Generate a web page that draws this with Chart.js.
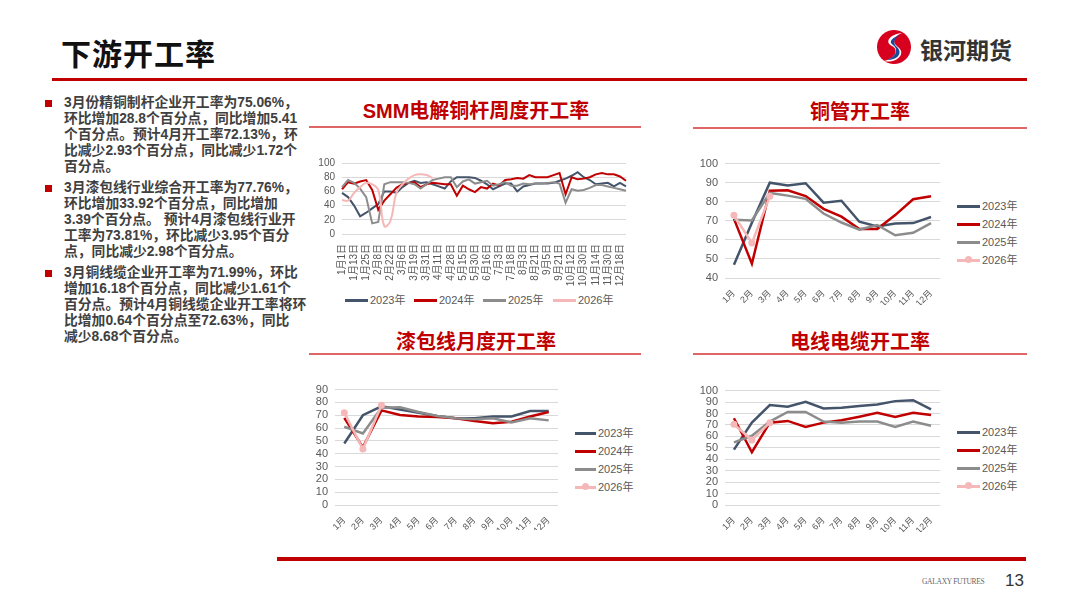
<!DOCTYPE html>
<html>
<head>
<meta charset="utf-8">
<script src="https://cdn.jsdelivr.net/npm/chart.js@4.4.1/dist/chart.umd.min.js"></script>
<style>
    body { margin: 0; width: 1080px; height: 608px; background: #fff; position: relative; overflow: hidden;
           font-family: "Liberation Sans", "Noto Sans CJK SC", sans-serif; }
    .abs { position: absolute; }
    .page-title { left: 61px; top: 30px; font-size: 30px; font-weight: bold; color: #111; letter-spacing: 1px;
                  font-family: "Noto Sans CJK SC", sans-serif; }
    .rule { background: #C00000; }
    .notes { left: 44px; top: 95px; width: 260px; font-size: 13.8px; font-weight: bold; color: #404040; line-height: 16px; }
    .notes p { margin: 0 0 5px 0; padding-left: 20px; position: relative; white-space: nowrap; }
    .notes p::before { content: ""; position: absolute; left: 1px; top: 5px; width: 7px; height: 7px; background: #C00000; }
    .chart-title { font-size: 20px; font-weight: bold; color: #C00000; text-align: center; width: 340px; line-height: 24px; }
    .title-rule { height: 2px; background: #E06666; }
    .legend { font-size: 11px; color: #595959; }
    .legend .item { position: absolute; white-space: nowrap; height: 14px; line-height: 14px; }
    .legend .swatch { display: inline-block; width: 23px; height: 3px; vertical-align: middle; margin-right: 2px; position: relative; top: -1px; }
    .legend .dot { position: absolute; left: 8px; top: -2.5px; width: 7px; height: 7px; border-radius: 50%; }
    canvas { position: absolute; }
</style>
</head>
<body>

<div class="abs page-title">下游开工率</div>
<div class="abs rule" style="left:52px; top:78px; width:975px; height:3px;"></div>

<!-- logo -->
<svg class="abs" style="left:874px; top:28px;" width="40" height="38" viewBox="0 0 40 38">
    <ellipse cx="20" cy="19" rx="17" ry="17" fill="#D7001F" transform="rotate(-20 20 19)"/>
    <path d="M28 5 C 16 6, 10 14, 18 18 C 26 22, 20 32, 9 33 C 22 36, 33 26, 24 19 C 17 14, 20 8, 28 5 Z" fill="#fff"/>
    <path d="M27 7 C 18 9, 14 14, 19 17 C 25 21, 22 29, 13 32 C 24 32, 29 25, 23 19 C 18 15, 20 10, 27 7 Z" fill="#1B4A9C"/>
</svg>
<div class="abs" style="left:920px; top:32px; font-size:23px; font-weight:bold; color:#333; font-family:'Noto Sans CJK SC',sans-serif;">银河期货</div>

<div class="abs notes">
    <p>3月份精铜制杆企业开工率为75.06%，<br>环比增加28.8个百分点，同比增加5.41<br>个百分点。预计4月开工率72.13%，环<br>比减少2.93个百分点，同比减少1.72个<br>百分点。</p>
    <p>3月漆包线行业综合开工率为77.76%，<br>环比增加33.92个百分点，同比增加<br>3.39个百分点。 预计4月漆包线行业开<br>工率为73.81%，环比减少3.95个百分<br>点，同比减少2.98个百分点。</p>
    <p>3月铜线缆企业开工率为71.99%，环比<br>增加16.18个百分点，同比减少1.61个<br>百分点。预计4月铜线缆企业开工率将环<br>比增加0.64个百分点至72.63%，同比<br>减少8.68个百分点。</p>
</div>

<div class="abs chart-title" style="left:306px; top:99px;">SMM电解铜杆周度开工率</div>
<div class="abs title-rule" style="left:309px; top:126px; width:332px;"></div>
<div class="abs chart-title" style="left:690px; top:100px;">铜管开工率</div>
<div class="abs title-rule" style="left:693px; top:127px; width:334px;"></div>
<div class="abs chart-title" style="left:306px; top:330px;">漆包线月度开工率</div>
<div class="abs title-rule" style="left:309px; top:353px; width:332px;"></div>
<div class="abs chart-title" style="left:690px; top:330px;">电线电缆开工率</div>
<div class="abs title-rule" style="left:693px; top:353px; width:334px;"></div>

<canvas id="rodChart" width="330" height="136" style="left:310px; top:150px;"></canvas>
<canvas id="tubeChart" width="257" height="155" style="left:693px; top:150px;"></canvas>
<canvas id="enamelChart" width="270" height="154" style="left:300px; top:376px;"></canvas>
<canvas id="cableChart" width="257" height="155" style="left:693px; top:377px;"></canvas>

<div class="abs legend" id="rodLegend" style="left:0; top:0;"></div>
<div class="abs legend" id="tubeLegend" style="left:0; top:0;"></div>
<div class="abs legend" id="enamelLegend" style="left:0; top:0;"></div>
<div class="abs legend" id="cableLegend" style="left:0; top:0;"></div>

<div class="abs rule" style="left:277px; top:557px; width:749px; height:4px;"></div>
<div class="abs" style="left:922px; top:577px; font-size:7.5px; color:#666; font-family:'Liberation Serif',serif; letter-spacing:-0.3px;">GALAXY FUTURES</div>
<div class="abs" style="left:1005px; top:571px; font-size:17px; color:#333;">13</div>

<script>
// series names / colours
const years = ['2023年', '2024年', '2025年', '2026年'];
const colors = ['#44546A', '#C00000', '#8C8C8C', '#F5B7B7'];

// SMM electrolytic copper rod, weekly
const weekLabels = ['1月1日', '1月7日', '1月13日', '1月19日', '1月25日', '2月1日', '2月8日', '2月15日', '2月22日', '2月28日',
    '3月6日', '3月12日', '3月19日', '3月25日', '3月31日', '4月5日', '4月11日', '4月19日', '4月28日', '5月7日',
    '5月15日', '5月22日', '5月30日', '6月7日', '6月16日', '6月25日', '7月3日', '7月10日', '7月18日', '7月26日',
    '8月3日', '8月12日', '8月21日', '8月28日', '9月5日', '9月13日', '9月21日', '9月30日', '10月12日', '10月20日',
    '10月30日', '11月7日', '11月14日', '11月22日', '11月30日', '12月9日', '12月18日', '12月25日'];
const rod2023 = [58, 52, 40, 25, 30, 36, 42, 60, 60, 58, 66, 72, 75, 72, 73, 70, 67, 64, 74, 80,
    80, 80, 79, 75, 70, 63, 67, 71, 71, 60, 67, 69, 71, 71, 71, 72, 75, 78, 82, 87,
    80, 76, 70, 71, 72, 67, 72, 67];
const rod2024 = [63, 73, 71, 74, 76, 62, 34, 47, 56, 65, 70, 72, 73, 66, 70, 72, 71, 70, 70, 54,
    68, 63, 59, 66, 64, 71, 68, 76, 77, 79, 78, 83, 80, 80, 80, 83, 86, 56, 80, 77,
    78, 80, 84, 86, 84, 84, 81, 75];
const rod2025 = [66, 76, 72, 64, 52, 15, 17, 70, 73, 73, 73, 72, 70, 64, 70, 76, 78, 80, 80, 66,
    74, 77, 71, 73, 75, 68, 70, 73, 68, 68, 71, 70, 71, 71, 72, 73, 71, 44, 63, 61,
    62, 65, 69, 69, 67, 65, 63, 61];
const rod2026 = [48, 47, 58, 66, 72, 70, 62, 11, 18, 58, 70, 78, 83, 84, 83, 79];

// monthly charts
const months = ['1月', '2月', '3月', '4月', '5月', '6月', '7月', '8月', '9月', '10月', '11月', '12月'];

const tube2023 = [47, 69, 90, 88.5, 89.7, 79.5, 80.5, 69.5, 67, 68.6, 68.8, 72];
const tube2024 = [71, 47.5, 85.8, 86, 83, 76.3, 72.2, 65.7, 65.7, 73, 81.3, 82.9];
const tube2025 = [70.5, 70.2, 84.6, 83.2, 81.5, 73.8, 69.1, 65.4, 67.8, 62.4, 63.7, 68.8];
const tube2026 = [72.9, 58.3, 82.9];

const enamel2023 = [48, 70, 77, 74.5, 72, 69.4, 67.6, 67.6, 69, 69, 73.3, 73.3];
const enamel2024 = [68, 45, 73.8, 70.2, 69, 68.6, 67.6, 65.5, 63.8, 65, 69, 72.5];
const enamel2025 = [61, 55.8, 75.8, 76.3, 72.5, 69.4, 67.6, 66.8, 67.6, 64.3, 67.6, 66];
const enamel2026 = [72, 43.7, 77.76];

const cable2023 = [48.4, 72, 87.3, 85.9, 90.2, 84.4, 85, 86.5, 87.9, 90.8, 91.6, 83.6];
const cable2024 = [75.8, 46.1, 72, 73.5, 68.3, 72, 74, 77.2, 80.7, 77, 80.7, 78.7];
const cable2025 = [54.8, 60.5, 72.9, 81.3, 81.3, 72.9, 72, 72.9, 72.9, 68.3, 72.9, 69.2];
const cable2026 = [70.6, 56.8, 71.99];

const FONT = '"Liberation Sans", "Noto Sans CJK SC", sans-serif';
Chart.defaults.font.family = FONT;
Chart.defaults.color = '#595959';

function makeSets(series, lineWidth, markers, smoothLast) {
    return series.map((data, i) => ({
        label: years[i],
        data: data,
        borderColor: colors[i],
        backgroundColor: colors[i],
        borderWidth: lineWidth,
        pointRadius: (markers && i === 3) ? 3.5 : 0,
        pointBorderWidth: 0,
        pointBackgroundColor: colors[i],
        tension: (smoothLast && i === 3) ? 0.4 : 0,
        order: 4 - i,
        fill: false
    }));
}

function drawChart(id, labels, datasets, y, box) {
    new Chart(document.getElementById(id), {
        type: 'line',
        data: { labels: labels, datasets: datasets },
        options: {
            responsive: false,
            animation: false,
            devicePixelRatio: 1,
            layout: { padding: { top: box.top, right: box.right, left: 0, bottom: 0 } },
            plugins: { legend: { display: false }, tooltip: { enabled: false } },
            scales: {
                x: {
                    offset: box.offset,
                    grid: { display: false },
                    border: { display: false },
                    afterFit: s => { s.height = box.xHeight; },
                    ticks: {
                        autoSkip: false,
                        minRotation: box.rotation,
                        maxRotation: box.rotation,
                        padding: 2,
                        font: { size: box.xFont },
                        color: '#595959',
                        callback: function (v, i) { return (i % box.every === 0) ? this.getLabelForValue(v) : ''; }
                    }
                },
                y: {
                    min: y.min, max: y.max,
                    grid: { color: '#D9D9D9', lineWidth: 1, drawTicks: false },
                    border: { display: false },
                    afterFit: s => { s.width = box.yWidth; },
                    ticks: { stepSize: y.step, autoSkip: false, padding: 7, font: { size: box.yFont }, color: '#595959' }
                }
            }
        }
    });
}

function drawLegend(id, items) {
    const el = document.getElementById(id);
    el.innerHTML = items.map((it, i) => `
        <div class="item" style="left:${it.x}px; top:${it.y - 7}px;">
            <span class="swatch" style="background:${colors[i]}; width:${it.w}px;">${it.dot ? `<span class="dot" style="left:${it.w / 2 - 3.5}px; background:${colors[i]}"></span>` : ''}</span>${years[i]}
        </div>`).join('');
}

// SMM rod weekly
drawChart('rodChart', weekLabels, makeSets([rod2023, rod2024, rod2025, rod2026], 2, false, true),
    { min: 0, max: 100, step: 20 },
    { top: 12, right: 11, xHeight: 52, yWidth: 32, rotation: 90, every: 2, offset: false, yFont: 10, xFont: 10 });
drawLegend('rodLegend', [
    { x: 345, y: 300, w: 23 }, { x: 414, y: 300, w: 23 }, { x: 483, y: 300, w: 23 }, { x: 553, y: 300, w: 23 }
]);

// copper tube
drawChart('tubeChart', months, makeSets([tube2023, tube2024, tube2025, tube2026], 2.5, true, false),
    { min: 40, max: 100, step: 10 },
    { top: 12, right: 10, xHeight: 27, yWidth: 32, rotation: 45, every: 1, offset: true, yFont: 11, xFont: 9 });
drawLegend('tubeLegend', [
    { x: 957, y: 206, w: 23 }, { x: 957, y: 224, w: 23 }, { x: 957, y: 242, w: 23 }, { x: 957, y: 260, w: 23, dot: true }
]);

// enamelled wire
drawChart('enamelChart', months, makeSets([enamel2023, enamel2024, enamel2025, enamel2026], 2.5, true, false),
    { min: 0, max: 90, step: 10 },
    { top: 12, right: 12, xHeight: 25, yWidth: 35, rotation: 45, every: 1, offset: true, yFont: 11, xFont: 9 });
drawLegend('enamelLegend', [
    { x: 575, y: 433, w: 21 }, { x: 575, y: 451, w: 21 }, { x: 575, y: 469, w: 21 }, { x: 575, y: 487, w: 21, dot: true }
]);

// wire & cable
drawChart('cableChart', months, makeSets([cable2023, cable2024, cable2025, cable2026], 2.5, true, false),
    { min: 0, max: 100, step: 10 },
    { top: 12, right: 10, xHeight: 27, yWidth: 32, rotation: 45, every: 1, offset: true, yFont: 11, xFont: 9 });
drawLegend('cableLegend', [
    { x: 957, y: 432, w: 23 }, { x: 957, y: 450, w: 23 }, { x: 957, y: 468, w: 23 }, { x: 957, y: 486, w: 23, dot: true }
]);
</script>
</body>
</html>
